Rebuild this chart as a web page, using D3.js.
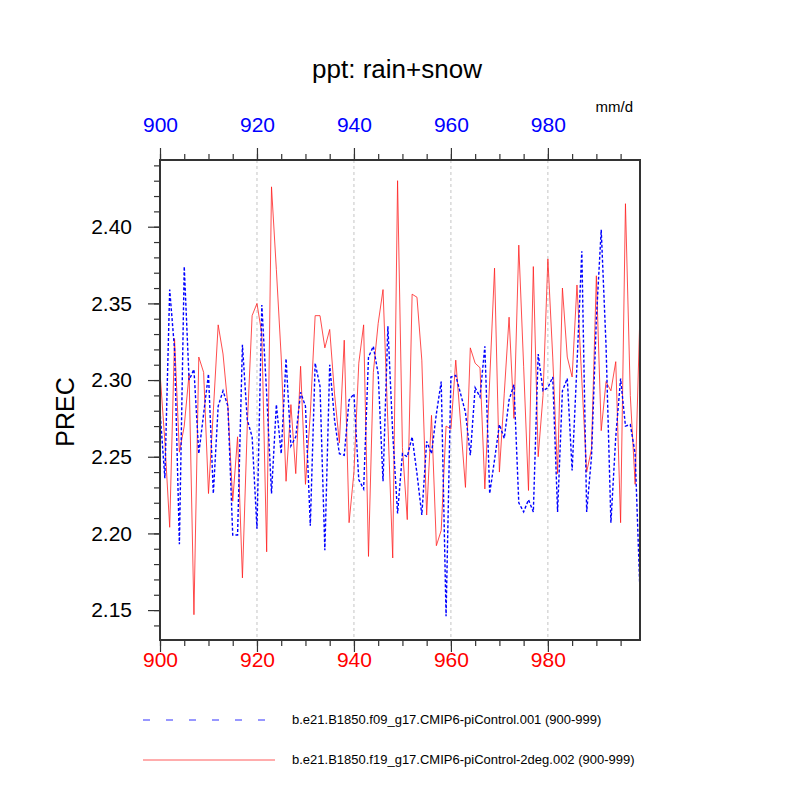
<!DOCTYPE html>
<html>
<head>
<meta charset="utf-8">
<script src="https://cdn.jsdelivr.net/npm/d3@7"></script>
<style>
  body { margin: 0; background: #fff; }
  text { font-family: "Liberation Sans", Arial, Helvetica, sans-serif; }
</style>
</head>
<body>
<svg id="chart" width="800" height="800"></svg>
<script>
'use strict';

// ---- data ----
const firstYear = 900;

const precF09 = [
  2.280, 2.236, 2.359, 2.320, 2.193, 2.374, 2.300, 2.307, 2.252, 2.278,
  2.304, 2.226, 2.283, 2.293, 2.283, 2.199, 2.199, 2.323, 2.274, 2.263,
  2.203, 2.349, 2.291, 2.226, 2.284, 2.252, 2.314, 2.257, 2.263, 2.292,
  2.283, 2.205, 2.311, 2.296, 2.189, 2.310, 2.274, 2.252, 2.251, 2.287,
  2.291, 2.235, 2.229, 2.315, 2.322, 2.304, 2.234, 2.335, 2.265, 2.213,
  2.252, 2.250, 2.263, 2.239, 2.212, 2.260, 2.252, 2.278, 2.299, 2.146,
  2.302, 2.303, 2.291, 2.279, 2.251, 2.295, 2.289, 2.322, 2.226, 2.248,
  2.271, 2.262, 2.287, 2.297, 2.220, 2.214, 2.222, 2.214, 2.317, 2.293,
  2.295, 2.302, 2.214, 2.293, 2.301, 2.241, 2.310, 2.384, 2.214, 2.250,
  2.340, 2.398, 2.322, 2.207, 2.263, 2.301, 2.270, 2.271, 2.252, 2.161
];

const precF19 = [
  2.305, 2.260, 2.204, 2.327, 2.253, 2.270, 2.304, 2.147, 2.315, 2.305,
  2.226, 2.280, 2.336, 2.317, 2.283, 2.221, 2.263, 2.171, 2.270, 2.342,
  2.350, 2.330, 2.188, 2.426, 2.372, 2.315, 2.234, 2.284, 2.239, 2.309,
  2.232, 2.278, 2.342, 2.342, 2.321, 2.333, 2.291, 2.259, 2.326, 2.207,
  2.240, 2.311, 2.336, 2.185, 2.305, 2.337, 2.359, 2.272, 2.184, 2.430,
  2.256, 2.209, 2.356, 2.354, 2.313, 2.212, 2.277, 2.192, 2.202, 2.270,
  2.268, 2.313, 2.272, 2.230, 2.321, 2.311, 2.308, 2.229, 2.300, 2.373,
  2.240, 2.291, 2.341, 2.275, 2.388, 2.309, 2.228, 2.374, 2.250, 2.290,
  2.379, 2.315, 2.239, 2.360, 2.315, 2.302, 2.362, 2.300, 2.240, 2.255,
  2.368, 2.267, 2.299, 2.293, 2.312, 2.207, 2.415, 2.290, 2.232, 2.345
];

const xMajorTicks = [900, 920, 940, 960, 980];
const xMinorTicks = [900, 905, 910, 915, 920, 925, 930, 935, 940, 945, 950, 955,
                     960, 965, 970, 975, 980, 985, 990, 995];
const yMajorTicks = [2.15, 2.20, 2.25, 2.30, 2.35, 2.40];
const yMinorTicks = [2.14, 2.15, 2.16, 2.17, 2.18, 2.19, 2.20, 2.21, 2.22, 2.23,
                     2.24, 2.25, 2.26, 2.27, 2.28, 2.29, 2.30, 2.31, 2.32, 2.33,
                     2.34, 2.35, 2.36, 2.37, 2.38, 2.39, 2.40, 2.41, 2.42, 2.43, 2.44];

const legendLabels = [
  'b.e21.B1850.f09_g17.CMIP6-piControl.001 (900-999)',
  'b.e21.B1850.f19_g17.CMIP6-piControl-2deg.002 (900-999)'
];

// ---- layout ----
const pLeft = 160, pRight = 640, pTop = 160, pBottom = 640;

const svg = d3.select('#chart');

const x = d3.scaleLinear().domain([900, 999]).range([pLeft, pRight]);
const y = d3.scaleLinear().domain([2.1305, 2.4435]).range([pBottom, pTop]);

// vertical dotted grid lines
svg.append('g')
  .selectAll('line')
  .data(xMajorTicks.slice(1))
  .join('line')
  .attr('x1', d => x(d)).attr('x2', d => x(d))
  .attr('y1', pTop).attr('y2', pBottom)
  .attr('stroke', '#c4c4c4')
  .attr('stroke-width', 1)
  .attr('stroke-dasharray', '3,3');

// series
const line = d3.line()
  .x((d, i) => x(firstYear + i))
  .y(d => y(d));

svg.append('defs').append('clipPath').attr('id', 'clip')
  .append('rect')
  .attr('x', pLeft).attr('y', pTop)
  .attr('width', pRight - pLeft).attr('height', pBottom - pTop);

const plot = svg.append('g').attr('clip-path', 'url(#clip)');

plot.append('path')
  .datum(precF19)
  .attr('fill', 'none')
  .attr('stroke', '#ff2020')
  .attr('stroke-width', 0.8)
  .attr('d', line);

plot.append('path')
  .datum(precF09)
  .attr('fill', 'none')
  .attr('stroke', '#0000ff')
  .attr('stroke-width', 1.4)
  .attr('stroke-dasharray', '3,2')
  .attr('d', line);

// axes
function styleAxis(g, color, size) {
  g.select('.domain').remove();
  g.selectAll('.tick line').attr('stroke', '#333').attr('stroke-width', 1.2);
  g.selectAll('.tick text')
    .attr('fill', color)
    .style('font-size', size + 'px')
    .style('font-family', '"Liberation Sans", Arial, Helvetica, sans-serif');
}

// left
svg.append('g')
  .attr('transform', 'translate(' + pLeft + ',0)')
  .call(d3.axisLeft(y).tickValues(yMinorTicks).tickSize(6).tickFormat(''))
  .call(g => styleAxis(g, '#000', 20));
svg.append('g')
  .attr('transform', 'translate(' + pLeft + ',0)')
  .call(d3.axisLeft(y).tickValues(yMajorTicks).tickSize(12).tickPadding(16)
    .tickFormat(d3.format('.2f')))
  .call(g => styleAxis(g, '#000', 21));

// top
svg.append('g')
  .attr('transform', 'translate(0,' + pTop + ')')
  .call(d3.axisTop(x).tickValues(xMinorTicks).tickSize(6).tickFormat(''))
  .call(g => styleAxis(g, '#000', 20));
svg.append('g')
  .attr('transform', 'translate(0,' + pTop + ')')
  .call(d3.axisTop(x).tickValues(xMajorTicks).tickSize(12).tickPadding(16)
    .tickFormat(d3.format('d')))
  .call(g => styleAxis(g, '#0000ff', 21));

// bottom
svg.append('g')
  .attr('transform', 'translate(0,' + pBottom + ')')
  .call(d3.axisBottom(x).tickValues(xMinorTicks).tickSize(6).tickFormat(''))
  .call(g => styleAxis(g, '#000', 20));
svg.append('g')
  .attr('transform', 'translate(0,' + pBottom + ')')
  .call(d3.axisBottom(x).tickValues(xMajorTicks).tickSize(12).tickPadding(0)
    .tickFormat(d3.format('d')))
  .call(g => styleAxis(g, '#ff0000', 21));

// frame
svg.append('rect')
  .attr('x', pLeft).attr('y', pTop)
  .attr('width', pRight - pLeft).attr('height', pBottom - pTop)
  .attr('fill', 'none')
  .attr('stroke', '#333')
  .attr('stroke-width', 2);

// titles
svg.append('text')
  .attr('x', 397).attr('y', 78)
  .attr('text-anchor', 'middle')
  .style('font-size', '26px')
  .text('ppt: rain+snow');

svg.append('text')
  .attr('x', 633).attr('y', 112)
  .attr('text-anchor', 'end')
  .style('font-size', '15px')
  .text('mm/d');

svg.append('text')
  .attr('transform', 'translate(74,412) rotate(-90)')
  .attr('text-anchor', 'middle')
  .style('font-size', '25px')
  .text('PREC');

// legend
const legend = svg.append('g');
const legendY = [720, 760];
const legendStyles = [
  { color: '#3030ff', width: 1, dash: '7,16' },
  { color: '#ff3030', width: 0.8, dash: null }
];

legendLabels.forEach(function(label, i) {
  legend.append('line')
    .attr('x1', 143).attr('x2', 275)
    .attr('y1', legendY[i]).attr('y2', legendY[i])
    .attr('stroke', legendStyles[i].color)
    .attr('stroke-width', legendStyles[i].width)
    .attr('stroke-dasharray', legendStyles[i].dash);
  legend.append('text')
    .attr('x', 292).attr('y', legendY[i] + 4)
    .style('font-size', '13px')
    .text(label);
});
</script>
</body>
</html>
